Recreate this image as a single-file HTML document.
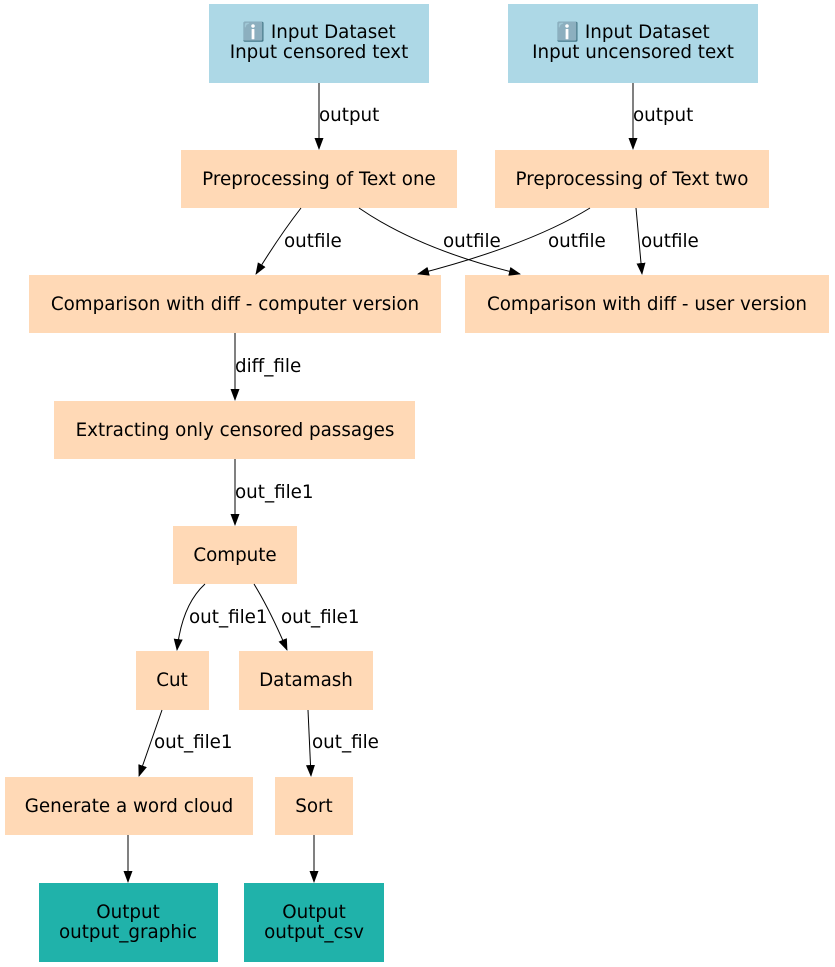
<!DOCTYPE html>
<html><head><meta charset="utf-8"><style>
html,body{margin:0;padding:0;background:#fff;}
svg{display:block;}
text{font-family:"DejaVu Sans","Liberation Sans",sans-serif;font-size:18.3px;fill:#000;}
</style></head><body>
<svg width="835" height="967" viewBox="0 0 835 967" xmlns="http://www.w3.org/2000/svg">
<defs><marker id="a" markerWidth="12" markerHeight="12" refX="11" refY="6" orient="auto" markerUnits="userSpaceOnUse"><path d="M0,1.5 L12,6 L0,10.5 Z" fill="#000"/></marker></defs>
<g fill="#add8e6">
<rect x="209" y="4" width="220" height="79"/>
<rect x="508" y="4" width="250" height="79"/>
</g>
<g fill="#ffd9b6">
<rect x="181" y="150" width="276" height="58"/>
<rect x="495" y="150" width="274" height="58"/>
<rect x="29" y="275" width="412" height="58"/>
<rect x="465" y="275" width="364" height="58"/>
<rect x="54" y="401" width="361" height="58"/>
<rect x="173" y="526" width="124" height="58"/>
<rect x="136" y="651" width="73" height="59"/>
<rect x="239" y="651" width="134" height="59"/>
<rect x="5" y="777" width="248" height="58"/>
<rect x="275" y="777" width="78" height="58"/>
</g>
<g fill="#20b2aa">
<rect x="39" y="883" width="179" height="79"/>
<rect x="244" y="883" width="140" height="79"/>
</g>
<g stroke="#000" stroke-width="1" fill="none" marker-end="url(#a)">
<path d="M319,83 L319,149"/>
<path d="M633,83 L633,149"/>
<path d="M301,208 Q280,235 256,274"/>
<path d="M359,208 Q420,250 520,274"/>
<path d="M590,208 Q530,245 418,274"/>
<path d="M636,208 L642,274"/>
<path d="M235,333 L235,400"/>
<path d="M235,459 L235,525"/>
<path d="M205,584 Q182,605 177,650"/>
<path d="M254,584 Q270,610 287,650"/>
<path d="M162,710 L139,776"/>
<path d="M308,710 L311,776"/>
<path d="M128,835 L128,882"/>
<path d="M314,835 L314,882"/>
</g>
<g text-anchor="middle">
<text x="319" y="38">ℹ️ Input Dataset</text><text x="319" y="58">Input censored text</text>
<text x="633" y="38">ℹ️ Input Dataset</text><text x="633" y="58">Input uncensored text</text>
<text x="319" y="185">Preprocessing of Text one</text>
<text x="632" y="185">Preprocessing of Text two</text>
<text x="235" y="310">Comparison with diff - computer version</text>
<text x="647" y="310">Comparison with diff - user version</text>
<text x="235" y="436">Extracting only censored passages</text>
<text x="235" y="561">Compute</text>
<text x="172" y="686">Cut</text>
<text x="306" y="686">Datamash</text>
<text x="129" y="812">Generate a word cloud</text>
<text x="314" y="812">Sort</text>
<text x="128" y="918">Output</text><text x="128" y="938">output_graphic</text>
<text x="314" y="918">Output</text><text x="314" y="938">output_csv</text>
</g>
<g>
<text x="319" y="121">output</text>
<text x="633" y="121">output</text>
<text x="284" y="247">outfile</text>
<text x="443" y="247">outfile</text>
<text x="548" y="247">outfile</text>
<text x="641" y="247">outfile</text>
<text x="235" y="372">diff_file</text>
<text x="235" y="498">out_file1</text>
<text x="189" y="623">out_file1</text>
<text x="281" y="623">out_file1</text>
<text x="154" y="748">out_file1</text>
<text x="312" y="748">out_file</text>
</g>
</svg>
</body></html>
